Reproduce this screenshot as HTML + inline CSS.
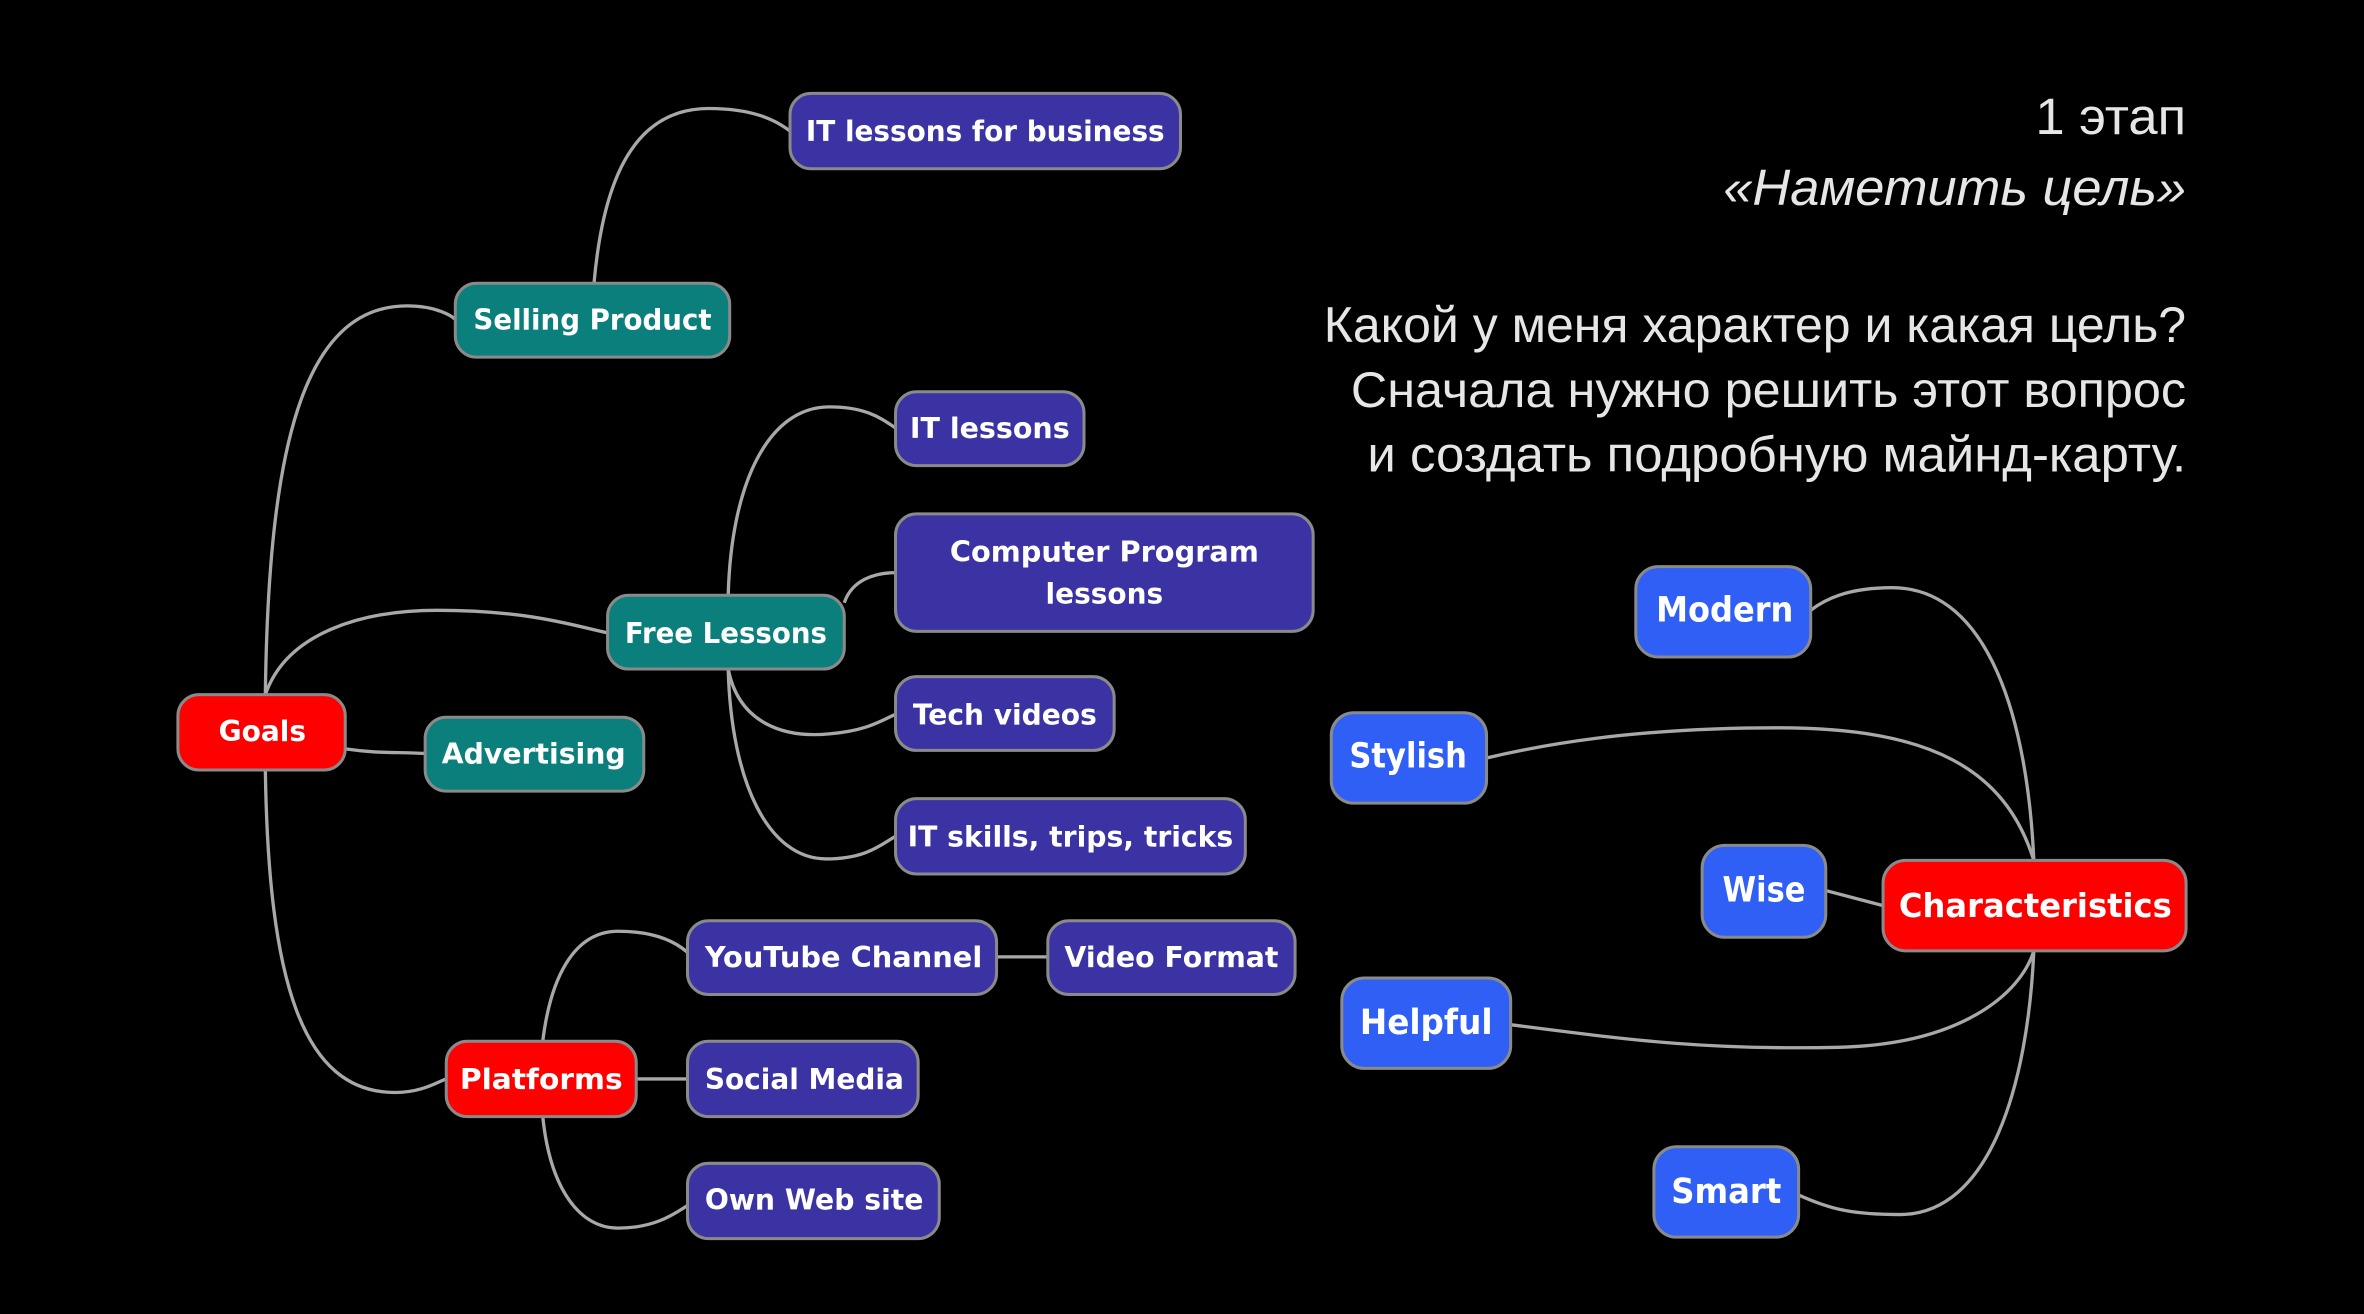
<!DOCTYPE html>
<html><head><meta charset="utf-8"><style>
html,body{margin:0;padding:0;background:#000;}
svg{display:block}
.n{stroke:#8a8a8a;stroke-width:2}
.t{fill:#fff;font-family:"DejaVu Sans","Liberation Sans",sans-serif;font-weight:bold;text-anchor:middle;dominant-baseline:central}
.c{fill:none;stroke:#a8a8a8;stroke-width:2.2}
.r{fill:#e6e6e6;font-family:"Liberation Sans",sans-serif;text-anchor:end}
</style></head><body>
<svg width="2364" height="1314" viewBox="0 0 1568 872" preserveAspectRatio="none">
<rect width="1568" height="872" fill="#000"/>
<!-- connectors -->
<path class="c" d="M176,461 C178,300 200,203 270,203 C290,203 300,210 302,212"/>
<path class="c" d="M176,461 C190,420 240,405 290,405 C350,405 380,415 403,420"/>
<path class="c" d="M229,497 C250,500 260,499 282,500"/>
<path class="c" d="M176,511 C178,650 200,725 262,725 C280,725 290,718 296,716"/>
<path class="c" d="M394,188 C400,120 420,72 470,72 C500,72 515,80 524,87"/>
<path class="c" d="M483,395 C485,320 510,270 550,270 C575,270 585,278 594,284"/>
<path class="c" d="M560,400 C565,385 580,380 594,380"/>
<path class="c" d="M483,444 C490,480 520,490 550,487 C575,485 585,478 594,474"/>
<path class="c" d="M483,444 C485,520 510,570 548,570 C575,570 585,560 594,555"/>
<path class="c" d="M661,635 L695,635"/>
<path class="c" d="M360,691 C365,650 380,618 410,618 C435,618 448,625 456,632"/>
<path class="c" d="M422,716 L456,716"/>
<path class="c" d="M360,741 C365,790 385,815 410,815 C435,815 448,805 456,800"/>
<path class="c" d="M1349,571 C1345,480 1320,390 1255,390 C1225,390 1210,398 1201,405"/>
<path class="c" d="M1349,571 C1330,510 1280,483 1180,483 C1080,483 1020,495 986,503"/>
<path class="c" d="M1211,591 L1249,601"/>
<path class="c" d="M1002,680 C1080,690 1130,697 1220,695 C1300,693 1340,660 1349,631"/>
<path class="c" d="M1193,793 C1215,803 1230,806 1260,806 C1320,806 1345,720 1349,631"/>
<!-- nodes -->
<g>
<rect class="n" x="524" y="62" width="259" height="50" rx="14" fill="#3b33a3"/><text class="t" x="653.5" y="87" font-size="19" textLength="238" lengthAdjust="spacingAndGlyphs">IT lessons for business</text>
<rect class="n" x="302" y="188" width="182" height="49" rx="14" fill="#0b7f7b"/><text class="t" x="393" y="212" font-size="19" textLength="158" lengthAdjust="spacingAndGlyphs">Selling Product</text>
<rect class="n" x="594" y="260" width="125" height="49" rx="14" fill="#3b33a3"/><text class="t" x="656.5" y="284" font-size="19" textLength="106" lengthAdjust="spacingAndGlyphs">IT lessons</text>
<rect class="n" x="594" y="341" width="277" height="78" rx="14" fill="#3b33a3"/><text class="t" x="732.5" y="366" font-size="19" textLength="205" lengthAdjust="spacingAndGlyphs">Computer Program</text><text class="t" x="732.5" y="394" font-size="19" textLength="78" lengthAdjust="spacingAndGlyphs">lessons</text>
<rect class="n" x="403" y="395" width="157" height="49" rx="14" fill="#0b7f7b"/><text class="t" x="481.5" y="420" font-size="19" textLength="134" lengthAdjust="spacingAndGlyphs">Free Lessons</text>
<rect class="n" x="118" y="461" width="111" height="50" rx="14" fill="#ff0000"/><text class="t" x="174" y="485" font-size="19" textLength="58" lengthAdjust="spacingAndGlyphs">Goals</text>
<rect class="n" x="282" y="476" width="145" height="49" rx="14" fill="#0b7f7b"/><text class="t" x="354" y="500" font-size="19" textLength="122" lengthAdjust="spacingAndGlyphs">Advertising</text>
<rect class="n" x="594" y="449" width="145" height="49" rx="14" fill="#3b33a3"/><text class="t" x="666.5" y="474" font-size="19" textLength="122" lengthAdjust="spacingAndGlyphs">Tech videos</text>
<rect class="n" x="594" y="530" width="232" height="50" rx="14" fill="#3b33a3"/><text class="t" x="710" y="555" font-size="19" textLength="216" lengthAdjust="spacingAndGlyphs">IT skills, trips, tricks</text>
<rect class="n" x="456" y="611" width="205" height="49" rx="14" fill="#3b33a3"/><text class="t" x="559.5" y="635" font-size="19" textLength="184" lengthAdjust="spacingAndGlyphs">YouTube Channel</text>
<rect class="n" x="695" y="611" width="164" height="49" rx="14" fill="#3b33a3"/><text class="t" x="777" y="635" font-size="19" textLength="142" lengthAdjust="spacingAndGlyphs">Video Format</text>
<rect class="n" x="296" y="691" width="126" height="50" rx="14" fill="#ff0000"/><text class="t" x="359" y="716" font-size="19" textLength="108" lengthAdjust="spacingAndGlyphs">Platforms</text>
<rect class="n" x="456" y="691" width="153" height="50" rx="14" fill="#3b33a3"/><text class="t" x="533.5" y="716" font-size="19" textLength="132" lengthAdjust="spacingAndGlyphs">Social Media</text>
<rect class="n" x="456" y="772" width="167" height="50" rx="14" fill="#3b33a3"/><text class="t" x="540" y="796" font-size="19" textLength="145" lengthAdjust="spacingAndGlyphs">Own Web site</text>
<rect class="n" x="1085" y="376" width="116" height="60" rx="15" fill="#2f5ff5"/><text class="t" x="1144" y="405" font-size="23" textLength="91" lengthAdjust="spacingAndGlyphs">Modern</text>
<rect class="n" x="883" y="473" width="103" height="60" rx="15" fill="#2f5ff5"/><text class="t" x="934" y="502" font-size="23" textLength="78" lengthAdjust="spacingAndGlyphs">Stylish</text>
<rect class="n" x="1129" y="561" width="82" height="61" rx="15" fill="#2f5ff5"/><text class="t" x="1170" y="591" font-size="23" textLength="55" lengthAdjust="spacingAndGlyphs">Wise</text>
<rect class="n" x="1249" y="571" width="201" height="60" rx="15" fill="#ff0000"/><text class="t" x="1350" y="601" font-size="22" textLength="181" lengthAdjust="spacingAndGlyphs">Characteristics</text>
<rect class="n" x="890" y="649" width="112" height="60" rx="15" fill="#2f5ff5"/><text class="t" x="946" y="679" font-size="23" textLength="88" lengthAdjust="spacingAndGlyphs">Helpful</text>
<rect class="n" x="1097" y="761" width="96" height="60" rx="15" fill="#2f5ff5"/><text class="t" x="1145" y="791" font-size="23" textLength="73" lengthAdjust="spacingAndGlyphs">Smart</text>
</g>
<!-- right text -->
<text class="r" x="1450" y="89" font-size="34" textLength="100" lengthAdjust="spacingAndGlyphs">1 этап</text>
<text class="r" x="1450" y="136" font-size="34" font-style="italic" textLength="307" lengthAdjust="spacingAndGlyphs">«Наметить цель»</text>
<text class="r" x="1450" y="227" font-size="33" textLength="572" lengthAdjust="spacingAndGlyphs">Какой у меня характер и какая цель?</text>
<text class="r" x="1450" y="270" font-size="33" textLength="554" lengthAdjust="spacingAndGlyphs">Сначала нужно решить этот вопрос</text>
<text class="r" x="1450" y="313" font-size="33" textLength="543" lengthAdjust="spacingAndGlyphs">и создать подробную майнд-карту.</text>
</svg>
</body></html>
